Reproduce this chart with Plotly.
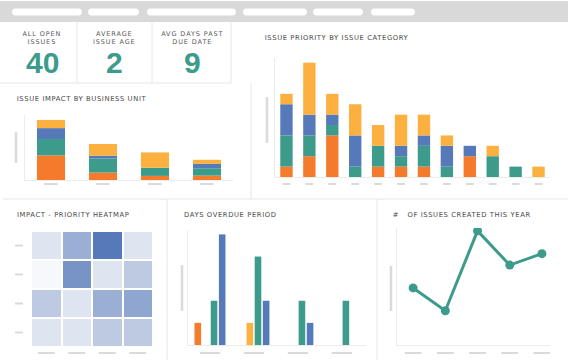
import plotly.graph_objects as go
import numpy as np

W, H = 568, 360
def fx(p): return p / W
def fy(p): return 1 - p / H

ORANGE = '#f47b2b'; YELLOW = '#fbb040'; TEAL = '#3d9b8c'; BLUE = '#5679b9'
LINE = '#e6e6e6'; PH = '#dadada'; TITLE = '#4a4a4a'

# ---------------- data ----------------
kpi_labels = ["ALL OPEN<br>ISSUES", "AVERAGE<br>ISSUE AGE", "AVG DAYS PAST<br>DUE DATE"]
kpi_values = [40, 2, 9]

bu_units = ["Unit A", "Unit B", "Unit C", "Unit D"]
bu_orange = [9, 2.7, 1.5, 1.6]
bu_teal = [6, 5.2, 3, 2.7]
bu_blue = [4, 1, 0, 1.6]
bu_yellow = [3, 4.3, 5.6, 1.5]

cats = ["C1", "C2", "C3", "C4", "C5", "C6", "C7", "C8", "C9", "C10", "C11", "C12"]
cat_orange = [1, 2, 4, 0, 1, 1, 1, 0, 2, 0, 0, 0]
cat_teal = [3, 2, 1, 1, 2, 1, 2, 1, 0, 2, 1, 0]
cat_blue = [3, 2, 1, 3, 0, 1, 1, 2, 1, 0, 0, 0]
cat_yellow = [1, 5, 2, 3, 2, 3, 2, 1, 0, 1, 0, 1]

hm_x = ["I1", "I2", "I3", "I4"]
hm_y = ["P1", "P2", "P3", "P4"]
hm_z = [[2, 6, 10, 2],
        [0, 8, 2, 4],
        [4, 2, 6, 6.7],
        [2, 2, 4, 4]]

periods = ["0-30", "31-60", "61-90", "90+"]
od_orange = [1, 0, 0, 0]
od_yellow = [0, 1, 0, 0]
od_teal = [2, 4, 2, 2]
od_blue = [5, 2, 1, 0]

months = ["M1", "M2", "M3", "M4", "M5"]
issues = [5, 3, 10, 7, 8]

# ---------------- figure ----------------
fig = go.Figure()

def stacked(x, series, xa, ya):
    base = np.zeros(len(x))
    for vals, col in series:
        vals = np.array(vals, dtype=float)
        fig.add_trace(go.Bar(x=x, y=vals, base=base.copy(), marker=dict(color=col, line=dict(width=0)),
                             offsetgroup='s' + xa, xaxis=xa, yaxis=ya, showlegend=False))
        base = base + vals

stacked(bu_units, [(bu_orange, ORANGE), (bu_teal, TEAL), (bu_blue, BLUE), (bu_yellow, YELLOW)], 'x', 'y')
stacked(cats, [(cat_orange, ORANGE), (cat_teal, TEAL), (cat_blue, BLUE), (cat_yellow, YELLOW)], 'x2', 'y2')

fig.add_trace(go.Heatmap(x=hm_x, y=hm_y, z=hm_z, xaxis='x3', yaxis='y3', xgap=2, ygap=2, showscale=False,
                         zmin=0, zmax=10, colorscale=[[0, '#f7f8fc'], [0.2, '#dfe5f0'], [1, '#5679b9']]))

slot = 0.185; bw = 0.15
for k, (vals, col) in enumerate([(od_orange, ORANGE), (od_yellow, YELLOW), (od_teal, TEAL), (od_blue, BLUE)]):
    fig.add_trace(go.Bar(x=periods, y=vals, marker=dict(color=col, line=dict(width=0)), width=bw,
                         offset=(k - 1.5) * slot - bw / 2, xaxis='x4', yaxis='y4', showlegend=False))

fig.add_trace(go.Scatter(x=months, y=issues, mode='lines+markers', line=dict(color=TEAL, width=3),
                         marker=dict(size=9, color=TEAL), xaxis='x5', yaxis='y5', showlegend=False))

def ax(dom_px, anchor, **kw):
    d = dict(domain=[fx(dom_px[0]), fx(dom_px[1])], anchor=anchor, showgrid=False, zeroline=False,
             showticklabels=False, ticks='', showline=True, linecolor='#ececec', linewidth=1, fixedrange=True)
    d.update(kw)
    return d

def ay(dom_px, anchor, **kw):
    d = dict(domain=[fy(dom_px[1]), fy(dom_px[0])], anchor=anchor, showgrid=False, zeroline=False,
             showticklabels=False, ticks='', showline=True, linecolor='#ececec', linewidth=1, fixedrange=True)
    d.update(kw)
    return d

layout = dict(
    width=W, height=H, margin=dict(l=0, r=0, t=0, b=0),
    paper_bgcolor='white', plot_bgcolor='white', barmode='group', bargap=0.46, bargroupgap=0,
    xaxis=ax((25, 233), 'y'), yaxis=ay((115, 180), 'x', range=[0, 23.8]),
    xaxis2=ax((275, 550), 'y2'), yaxis2=ay((58, 177), 'x2', range=[0, 11.45]),
    xaxis3=ax((31, 153), 'y3', showline=False), yaxis3=ay((231, 347), 'x3', showline=False, autorange='reversed'),
    xaxis4=ax((188, 366), 'y4', range=[-0.5, 3.55]), yaxis4=ay((230, 345), 'x4', range=[0, 5.2]),
    xaxis5=ax((397, 550), 'y5', range=[-0.5, 4.25]), yaxis5=ay((228, 345), 'x5', range=[0, 10.25]),
    font=dict(family='DejaVu Sans, sans-serif'),
)

shapes = []
# top bar
shapes.append(dict(type='rect', xref='paper', yref='paper', x0=0, x1=1, y0=fy(22), y1=fy(1),
                   fillcolor='#d9d9d9', line=dict(width=0), layer='below'))
pills = [(12, 82), (88, 139), (147, 236), (243, 307), (313, 363), (371, 415)]
r = 3.5; yt, yb = 8.5, 15.5; k = r * 4 / 3
for a, b in pills:
    p = (f"M{fx(a + r)},{fy(yt)} L{fx(b - r)},{fy(yt)} "
         f"C{fx(b - r + k)},{fy(yt)} {fx(b - r + k)},{fy(yb)} {fx(b - r)},{fy(yb)} "
         f"L{fx(a + r)},{fy(yb)} C{fx(a + r - k)},{fy(yb)} {fx(a + r - k)},{fy(yt)} {fx(a + r)},{fy(yt)} Z")
    shapes.append(dict(type='path', xref='paper', yref='paper', path=p, fillcolor='white', line=dict(width=0)))

def hline(y, x0, x1):
    shapes.append(dict(type='line', xref='paper', yref='paper', x0=fx(x0), x1=fx(x1), y0=fy(y), y1=fy(y),
                       line=dict(color=LINE, width=1)))
def vline(x, y0, y1, color=LINE, width=1):
    shapes.append(dict(type='line', xref='paper', yref='paper', x0=fx(x), x1=fx(x), y0=fy(y0), y1=fy(y1),
                       line=dict(color=color, width=width)))

# panel dividers
vline(77, 22, 83); vline(152, 22, 83); vline(231, 22, 83)
hline(83, 0, 231)
vline(251, 83, 199)
hline(199, 3, 568)
vline(167, 199, 360); vline(377, 199, 360)

# axis-title placeholders
vline(16, 132, 163, PH, 2.5)
vline(267, 97, 143, PH, 2.5)
vline(182, 265, 311, PH, 2.5)
vline(391, 266, 311, PH, 2.5)

# tick label placeholders
def xph(xa, n, half, ypx):
    for i in range(n):
        shapes.append(dict(type='line', xref=xa, yref='paper', x0=i - half, x1=i + half, y0=fy(ypx), y1=fy(ypx),
                           line=dict(color=PH, width=2)))
xph('x', len(bu_units), 0.13, 184)
xph('x2', len(cats), 0.17, 184)
xph('x3', len(hm_x), 0.28, 353)
xph('x4', len(periods), 0.23, 353)
xph('x5', len(months), 0.26, 353)
for i in range(len(hm_y)):
    shapes.append(dict(type='line', xref='paper', yref='y3', x0=fx(15), x1=fx(23), y0=i, y1=i,
                       line=dict(color=PH, width=2)))

layout['shapes'] = shapes

ann = []
for cx, lab, val in zip([42, 114, 192], kpi_labels, kpi_values):
    ann.append(dict(xref='paper', yref='paper', x=fx(cx), y=fy(38), text=lab, showarrow=False,
                    xanchor='center', yanchor='middle', font=dict(size=6.5, color='#5a5a5a'), align='center'))
    ann.append(dict(xref='paper', yref='paper', x=fx(cx), y=fy(62), text=f"<b>{val}</b>", showarrow=False,
                    xanchor='center', yanchor='middle',
                    font=dict(size=30, color=TEAL, family='Liberation Sans Narrow, Arial Narrow, sans-serif')))

titles = [("ISSUE IMPACT BY BUSINESS UNIT", 15, 99), ("ISSUE PRIORITY BY ISSUE CATEGORY", 263, 38),
          ("IMPACT - PRIORITY HEATMAP", 15, 215), ("DAYS OVERDUE PERIOD", 182, 215),
          ("#\u00a0\u00a0 OF ISSUES CREATED THIS YEAR", 391, 215)]
for t, x, y in titles:
    ann.append(dict(xref='paper', yref='paper', x=fx(x), y=fy(y), text=t, showarrow=False,
                    xanchor='left', yanchor='middle', font=dict(size=6.8, color=TITLE)))
layout['annotations'] = ann

fig.update_layout(**layout)

js = """
document.body.style.margin='0';document.body.style.overflow='hidden';
document.querySelectorAll('text.annotation-text').forEach(function(el){
  var t = el.textContent.trim();
  if (/^[0-9]+$/.test(t)) return;
  var multi = el.querySelectorAll('tspan.line').length > 1;
  var w0 = el.getBBox().width;
  el.style.letterSpacing = multi ? '0.9px' : '0.6px';
  if (!multi) {
    var w1 = el.getBBox().width;
    var tr = el.getAttribute('transform') || '';
    el.setAttribute('transform', 'translate(' + ((w1 - w0) / 2) + ',0) ' + tr);
  }
});
"""
fig.write_html("out.html", config={'displayModeBar': False, 'staticPlot': True}, post_script=js)
